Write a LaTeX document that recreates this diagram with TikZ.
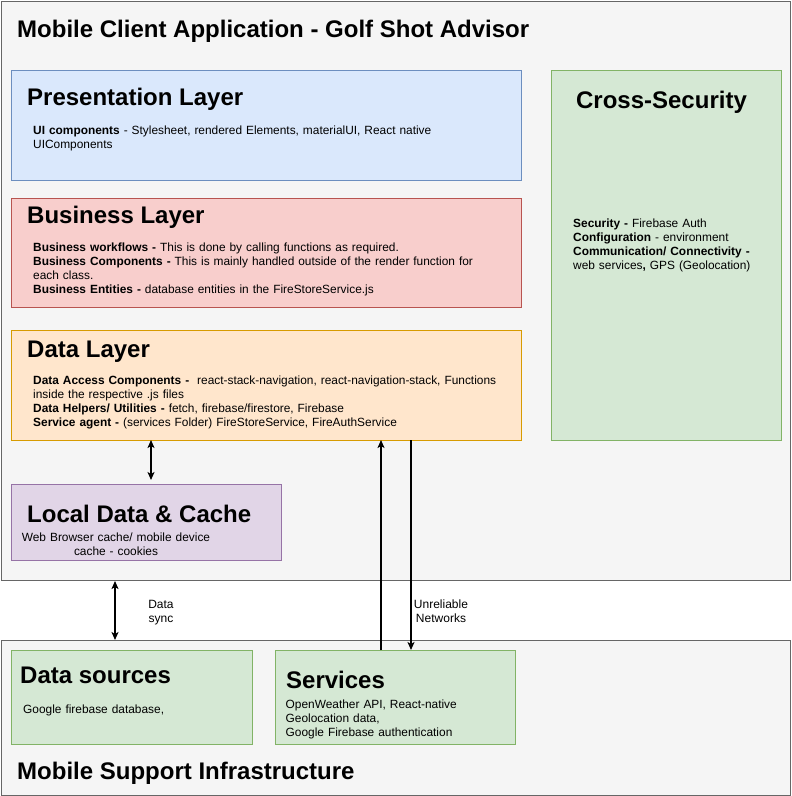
\documentclass[tikz,border=0pt]{standalone}
\usepackage{fontspec}
\setmainfont{Liberation Sans}
\usetikzlibrary{arrows.meta}
\definecolor{outerfill}{HTML}{F5F5F5}
\definecolor{outerline}{HTML}{666666}
\definecolor{bluefill}{HTML}{DAE8FC}
\definecolor{blueline}{HTML}{6C8EBF}
\definecolor{redfill}{HTML}{F8CECC}
\definecolor{redline}{HTML}{B85450}
\definecolor{orangefill}{HTML}{FFE6CC}
\definecolor{orangeline}{HTML}{D79B00}
\definecolor{purplefill}{HTML}{E1D5E7}
\definecolor{purpleline}{HTML}{9673A6}
\definecolor{greenfill}{HTML}{D5E8D4}
\definecolor{greenline}{HTML}{82B366}
\tikzset{
  box/.style={draw, line width=0.9pt, anchor=north west, inner sep=0pt, outer sep=0pt},
  outerbox/.style={box, fill=outerfill, draw=outerline},
  bluebox/.style={box, fill=bluefill, draw=blueline},
  redbox/.style={box, fill=redfill, draw=redline},
  orangebox/.style={box, fill=orangefill, draw=orangeline},
  purplebox/.style={box, fill=purplefill, draw=purpleline},
  greenbox/.style={box, fill=greenfill, draw=greenline},
  bigtitle/.style={anchor=base west, inner sep=0pt, font=\fontsize{24}{28}\selectfont\bfseries},
  heading/.style={anchor=base west, inner sep=0pt, font=\fontsize{24}{28}\selectfont\bfseries},
  body/.style={anchor=base west, inner sep=0pt, align=left, text width=#1,
    font=\fontsize{11.9}{14}\selectfont},
  label/.style={anchor=base, inner sep=0pt, align=center, text width=70pt,
    font=\fontsize{12}{14}\selectfont},
  arr/.style={line width=1.5pt, -{Stealth[length=8pt,width=7pt,inset=2pt]}},
  darr/.style={line width=1.5pt, {Stealth[length=8pt,width=7pt,inset=2pt]}-{Stealth[length=8pt,width=7pt,inset=2pt]}},
}
\begin{document}
\begin{tikzpicture}[x=1pt,y=-1pt]
\useasboundingbox (0,0) rectangle (792,796);
% outer containers
\node[outerbox, minimum width=789pt, minimum height=579pt] (client) at (1,1) {};
\node[outerbox, minimum width=789pt, minimum height=155pt] (infra) at (1,640) {};
\node[bigtitle] (clienttitle) at (17,37) {Mobile Client Application - Golf Shot Advisor};
\node[bigtitle] (infratitle) at (17,779) {Mobile Support Infrastructure};

% presentation layer
\node[bluebox, minimum width=510pt, minimum height=110pt] (pres) at (11,70) {};
\node[heading] (prestitle) at (27,105.5) {Presentation Layer};
\node[body=480pt] (prestext) at (33,134) {\textbf{UI components} - Stylesheet, rendered Elements, materialUI, React native\\UIComponents};

% business layer
\node[redbox, minimum width=510pt, minimum height=109pt] (bus) at (11,198) {};
\node[heading] (bustitle) at (27,223.3) {Business Layer};
\node[body=480pt] (bustext) at (33,251.6) {\textbf{Business workflows -} This is done by calling functions as required.\\
\textbf{Business Components -} This is mainly handled outside of the render function for\\
each class.\\
\textbf{Business Entities -} database entities in the FireStoreService.js};

% data layer
\node[orangebox, minimum width=510pt, minimum height=110pt] (data) at (11,330) {};
\node[heading] (datatitle) at (27,357.5) {Data Layer};
\node[body=480pt] (datatext) at (33,384) {\textbf{Data Access Components -}\ \ react-stack-navigation, react-navigation-stack, Functions\\
inside the respective .js files\\
\textbf{Data Helpers/ Utilities -} fetch, firebase/firestore, Firebase\\
\textbf{Service agent -} (services Folder) FireStoreService, FireAuthService};

% local data & cache
\node[purplebox, minimum width=270pt, minimum height=76pt] (local) at (11,484) {};
\node[heading] (localtitle) at (27,522) {Local Data \& Cache};
\node[anchor=base, inner sep=0pt, align=center, text width=220pt, font=\fontsize{11.9}{14}\selectfont] (localtext) at (116,541) {Web Browser cache/ mobile device\\cache - cookies};

% cross-security
\node[greenbox, minimum width=230pt, minimum height=370pt] (cross) at (551,70) {};
\node[heading, anchor=base] (crosstitle) at (661.5,108) {Cross-Security};
\node[body=200pt] (crosstext) at (573,227) {\textbf{Security -} Firebase Auth\\
\textbf{Configuration} - environment\\
\textbf{Communication/ Connectivity -}\\
web services\textbf{,} GPS (Geolocation)};

% data sources
\node[greenbox, minimum width=241pt, minimum height=94pt] (dsrc) at (11,650) {};
\node[heading] (dsrctitle) at (20,683) {Data sources};
\node[body=220pt] (dsrctext) at (23,713.5) {Google firebase database,};

% services
\node[greenbox, minimum width=240pt, minimum height=94pt] (serv) at (275,650) {};
\node[heading] (servtitle) at (286,688) {Services};
\node[body=225pt] (servtext) at (285.5,708) {OpenWeather API, React-native\\
Geolocation data,\\
Google Firebase authentication};

% connectors
\coordinate (xlocal) at (151,0);
\coordinate (xsync) at (115,0);
\coordinate (xup) at (381,0);
\coordinate (xdown) at (411,0);
\draw[darr, shorten >=4pt] (data.south -| xlocal) -- (local.north -| xlocal);
\draw[darr, shorten <=1pt] (client.south -| xsync) -- (infra.north -| xsync);
\draw[arr] (serv.north -| xup) -- (data.south -| xup);
\draw[arr] (data.south -| xdown) -- (serv.north -| xdown);

\node[label] (synclabel) at (161,608) {Data\\sync};
\node[label] (netlabel) at (441,608) {Unreliable\\Networks};
\end{tikzpicture}
\end{document}
